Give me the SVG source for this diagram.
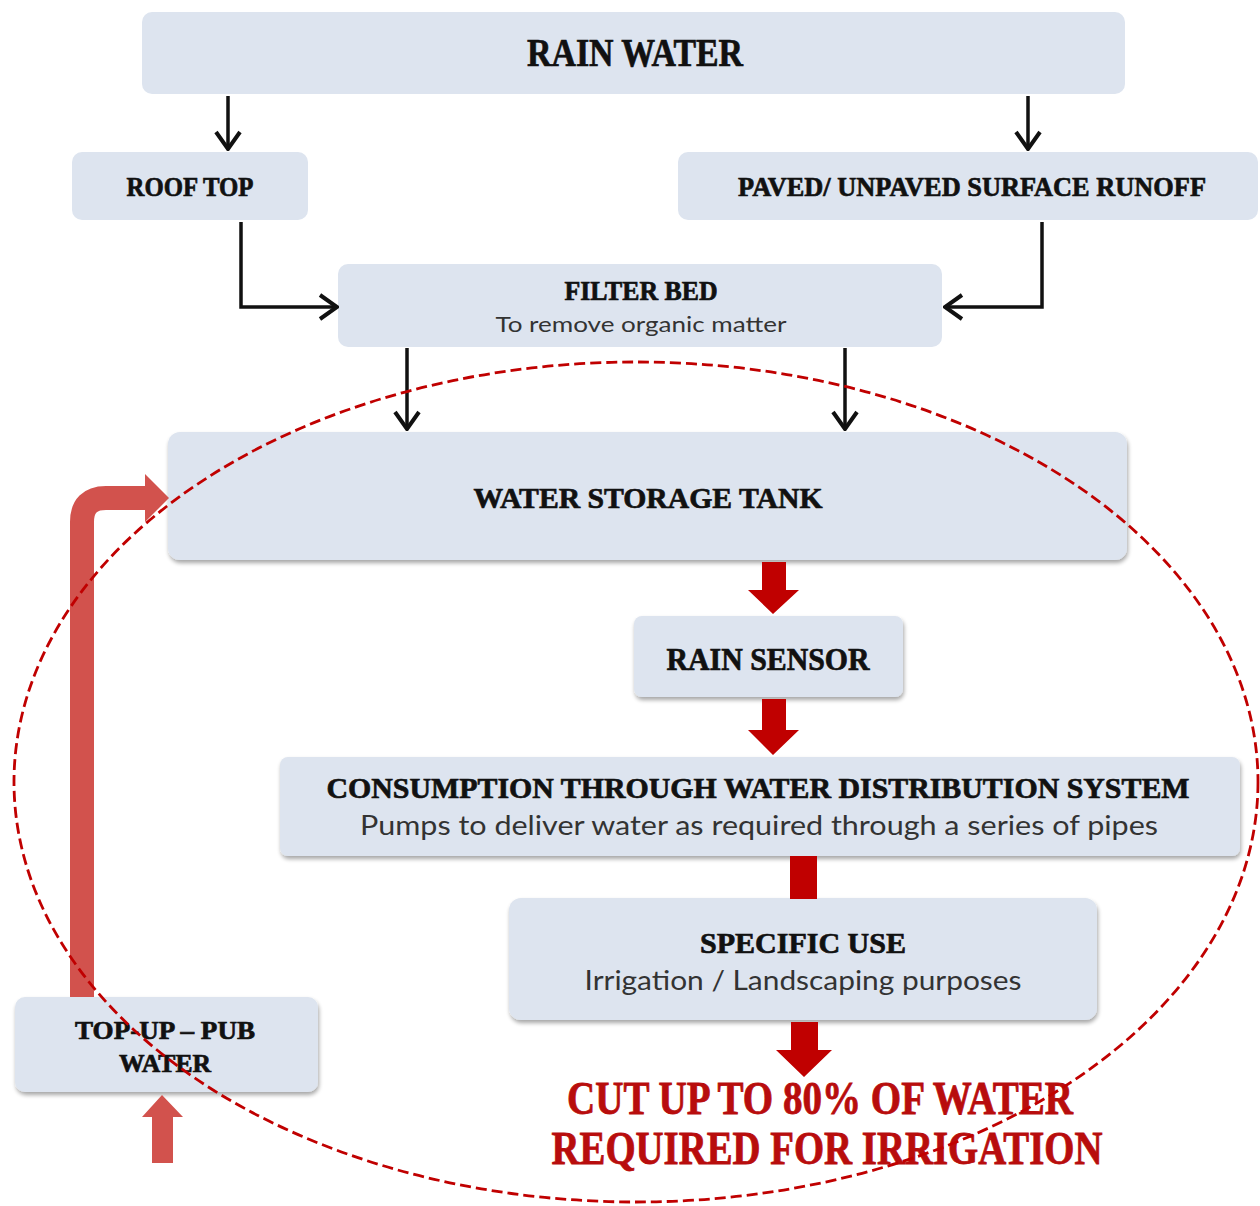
<svg xmlns="http://www.w3.org/2000/svg" width="1260" height="1206" viewBox="0 0 1260 1206">
<style>
.box{fill:#dde4ef;}
.sh{filter:url(#shadow);}
.h{font-family:"Liberation Serif","DejaVu Serif",serif;font-weight:bold;fill:#111;stroke:#111;stroke-width:0.7;text-anchor:middle;}
.r{font-family:Lato,"Open Sans","Liberation Sans",sans-serif;fill:#333;text-anchor:middle;}
.red{font-family:"Liberation Serif","DejaVu Serif",serif;font-weight:bold;fill:#b80d0d;stroke:#b80d0d;stroke-width:0.8;text-anchor:middle;}
.conn{fill:none;stroke:#111;stroke-width:3.5;}
.dk{fill:#c00000;}
.lt{fill:#d2524d;}
</style>
<defs>
<filter id="shadow" x="-5%" y="-10%" width="110%" height="130%">
<feGaussianBlur in="SourceAlpha" stdDeviation="2"/>
<feOffset dx="1" dy="3" result="b"/>
<feComponentTransfer><feFuncA type="linear" slope="0.35"/></feComponentTransfer>
<feMerge><feMergeNode/><feMergeNode in="SourceGraphic"/></feMerge>
</filter>
<marker id="ah" markerUnits="userSpaceOnUse" viewBox="-22 -15 24 30" refX="0" refY="0" markerWidth="24" markerHeight="30" orient="auto">
<path d="M-17,-12 L0,0 L-17,12" fill="none" stroke="#111" stroke-width="4"/>
</marker>
</defs>
<rect width="1260" height="1206" fill="#ffffff"/>

<g id="rain-water">
<rect class="box" x="142" y="12" width="983" height="82" rx="10"/>
<text class="h" x="635" y="66" font-size="40" textLength="216" lengthAdjust="spacingAndGlyphs">RAIN WATER</text>
</g>
<g id="roof-top">
<rect class="box" x="72" y="152" width="236" height="68" rx="10"/>
<text class="h" x="190" y="196" font-size="28" textLength="127" lengthAdjust="spacingAndGlyphs">ROOF TOP</text>
</g>
<g id="surface-runoff">
<rect class="box" x="678" y="152" width="580" height="68" rx="10"/>
<text class="h" x="972" y="196" font-size="28" textLength="468" lengthAdjust="spacingAndGlyphs">PAVED/ UNPAVED SURFACE RUNOFF</text>
</g>
<g id="filter-bed">
<rect class="box" x="338" y="264" width="604" height="83" rx="10"/>
<text class="h" x="641" y="300" font-size="27" textLength="153" lengthAdjust="spacingAndGlyphs">FILTER BED</text>
<text class="r" x="641" y="332" font-size="22" textLength="291" lengthAdjust="spacingAndGlyphs">To remove organic matter</text>
</g>
<g id="storage-tank">
<rect class="box sh" x="168" y="432" width="959" height="128" rx="12"/>
<text class="h" x="648" y="508" font-size="30" textLength="349" lengthAdjust="spacingAndGlyphs">WATER STORAGE TANK</text>
</g>
<g id="rain-sensor">
<rect class="box sh" x="634" y="616" width="269" height="81" rx="8"/>
<text class="h" x="768" y="670" font-size="31" textLength="203" lengthAdjust="spacingAndGlyphs">RAIN SENSOR</text>
</g>
<g id="consumption">
<rect class="box sh" x="280" y="757" width="960" height="99" rx="8"/>
<text class="h" x="758" y="798" font-size="30" textLength="863" lengthAdjust="spacingAndGlyphs">CONSUMPTION THROUGH WATER DISTRIBUTION SYSTEM</text>
<text class="r" x="759" y="835" font-size="27" textLength="798" lengthAdjust="spacingAndGlyphs">Pumps to deliver water as required through a series of pipes</text>
</g>
<g id="specific-use">
<rect class="box sh" x="509" y="898" width="588" height="122" rx="12"/>
<text class="h" x="803" y="953" font-size="29" textLength="206" lengthAdjust="spacingAndGlyphs">SPECIFIC USE</text>
<text class="r" x="803" y="990" font-size="26" textLength="437" lengthAdjust="spacingAndGlyphs">Irrigation / Landscaping purposes</text>
</g>
<g id="top-up">
<rect class="box sh" x="15" y="997" width="303" height="95" rx="10"/>
<text class="h" x="165" y="1039" font-size="26" textLength="180" lengthAdjust="spacingAndGlyphs">TOP-UP – PUB</text>
<text class="h" x="165" y="1072" font-size="26" textLength="92" lengthAdjust="spacingAndGlyphs">WATER</text>
</g>
<g id="result-text">
<text class="red" x="820" y="1114" font-size="46" textLength="506" lengthAdjust="spacingAndGlyphs">CUT UP TO 80% OF WATER</text>
<text class="red" x="827" y="1164" font-size="46" textLength="551" lengthAdjust="spacingAndGlyphs">REQUIRED FOR IRRIGATION</text>
</g>

<g id="connectors">
<path class="conn" d="M228,96 V149" marker-end="url(#ah)"/>
<path class="conn" d="M1028,96 V149" marker-end="url(#ah)"/>
<path class="conn" d="M241,222 V307 H337" marker-end="url(#ah)"/>
<path class="conn" d="M1042,222 V307 H945" marker-end="url(#ah)"/>
<path class="conn" d="M407,348 V429" marker-end="url(#ah)"/>
<path class="conn" d="M845,348 V429" marker-end="url(#ah)"/>
<path class="dk" d="M762,562 H786 V590 H799 L773,614 L748,590 H762 Z"/>
<path class="dk" d="M762,699 H786 V730 H799 L773,755 L748,730 H762 Z"/>
<rect class="dk" x="790" y="856" width="27" height="43"/>
<path class="dk" d="M791,1022 H818 V1050 H832 L804,1077 L776,1050 H791 Z"/>
<path d="M82,997 V522 Q82,498 106,498 H147" fill="none" stroke="#d2524d" stroke-width="24"/>
<path class="lt" d="M145,474 L169,498 L145,522 Z"/>
<path class="lt" d="M152,1163 V1117 H142 L162,1095 L183,1117 H173 V1163 Z"/>
</g>

<ellipse id="boundary" cx="636" cy="782" rx="622" ry="420" fill="none" stroke="#c00000" stroke-width="2.8" stroke-dasharray="11 5"/>
</svg>
